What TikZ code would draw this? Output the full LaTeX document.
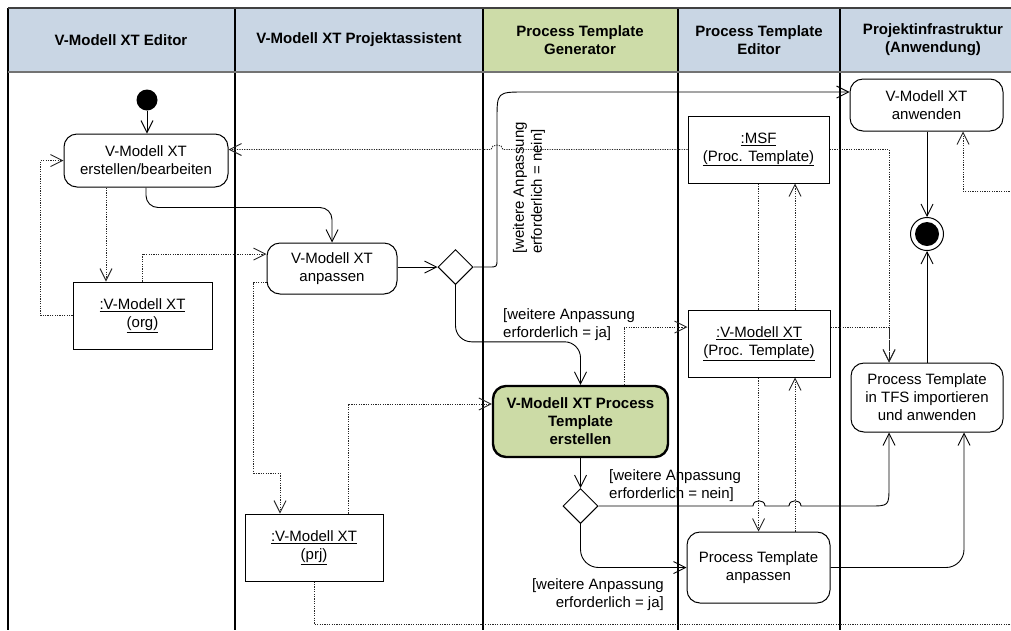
\documentclass[tikz,border=0pt]{standalone}
\usepackage{fontspec}
\setmainfont{Liberation Sans}
\usetikzlibrary{arrows.meta,shapes.geometric}
\pgfdeclarelayer{lanes}
\pgfdeclarelayer{edges}
\pgfsetlayers{lanes,edges,main}
\definecolor{hdrblue}{HTML}{C9D6E4}
\definecolor{hdrgreen}{HTML}{CDDCA8}
\definecolor{actgreen}{HTML}{CCDBA6}
\begin{document}
\begin{tikzpicture}[x=1pt,y=-1pt,font=\fontsize{15}{18}\selectfont,
  act/.style={draw, rounded corners=13pt, fill=white, align=center, inner sep=0pt, line width=1pt},
  obj/.style={draw, fill=white, align=center, inner sep=0pt, line width=1pt},
  flow/.style={line width=0.9pt, -{Straight Barb[length=12pt,width=12pt]}},
  oflow/.style={flow, draw=black!85, dash pattern=on 1.2pt off 1.2pt},
  dec/.style={draw, diamond, fill=white, inner sep=0pt, minimum width=35pt, minimum height=35pt, line width=1pt},
  lbl/.style={inner sep=0pt},
  hdr/.style={inner sep=0pt, align=center, font=\fontsize{15}{18}\selectfont\bfseries}]
\useasboundingbox (0,0) rectangle (1011,630);

% ---------- lanes ----------
\begin{pgfonlayer}{lanes}
\fill[hdrblue] (8,8) rectangle (1011,72);
\fill[hdrgreen] (483,8) rectangle (678,72);
\foreach \x in {8,235,483,678,840} \draw[line width=1.2pt] (\x,8) -- (\x,630);
\draw[line width=2pt, black!75] (8,8) -- (1011,8);
\draw[line width=2.5pt, black!55] (8,72) -- (1011,72);
\end{pgfonlayer}

\node[hdr] (h1) at (121,40) {V-Modell XT Editor};
\node[hdr] (h2) at (359,40) {V-Modell XT Projektassistent};
\node[hdr] (h3) at (580,40) {Process Template\\Generator};
\node[hdr] (h4) at (759,40) {Process Template\\Editor};
\node[hdr] (h5) at (933,40) {Projektinfrastruktur\\(Anwendung)};

% ---------- nodes ----------
\node[circle, fill=black, minimum size=21pt, inner sep=0pt] (init) at (147,100) {};
\node[act, minimum width=164pt, minimum height=53pt] (A) at (146,160.5) {V-Modell XT\\erstellen/bearbeiten};
\node[obj, minimum width=139pt, minimum height=67pt] (B) at (142.5,315.5) {\underline{:V-Modell XT}\\\underline{(org)}};
\node[act, minimum width=130pt, minimum height=51pt] (C) at (332,268.5) {V-Modell XT\\anpassen};
\node[dec] (D1) at (455.5,267) {};
\node[act, minimum width=153pt, minimum height=52pt] (E) at (926.5,105) {V-Modell XT\\anwenden};
\node[obj, minimum width=141pt, minimum height=67pt] (F) at (758.5,149.5) {\underline{:MSF}\\\underline{(Proc. Template)}};
\node[circle, draw, fill=white, minimum size=33pt, inner sep=0pt, line width=1pt] (fin) at (927,234) {};
\fill (fin.center) circle[radius=12pt];
\node[obj, minimum width=142pt, minimum height=67pt] (G) at (759,343.5) {\underline{:V-Modell XT}\\\underline{(Proc. Template)}};
\node[act, minimum width=152pt, minimum height=69pt] (H) at (927,397.5) {Process Template\\in TFS importieren\\und anwenden};
\node[act, fill=actgreen, line width=2.4pt, minimum width=175pt, minimum height=71pt, font=\fontsize{15}{18}\selectfont\bfseries] (I) at (580.5,421.5) {V-Modell XT Process\\Template\\erstellen};
\node[dec] (D2) at (580.5,506) {};
\node[obj, minimum width=138pt, minimum height=67pt] (J) at (314,547.5) {\underline{:V-Modell XT}\\\underline{(prj)}};
\node[act, minimum width=143pt, minimum height=71pt] (K) at (758.5,567.5) {Process Template\\anpassen};

% ---------- labels ----------
\node[lbl, rotate=90, anchor=west, align=left] (l1) at (529,254) {[weitere Anpassung\\erforderlich = nein]};
\node[lbl, anchor=west, align=left] (l2) at (503,325) {[weitere Anpassung\\erforderlich = ja]};
\node[lbl, anchor=west, align=left] (l3) at (609,486) {[weitere Anpassung\\erforderlich = nein]};
\node[lbl, anchor=east, align=right] (l4) at (664,595) {[weitere Anpassung\\erforderlich = ja]};

% ---------- connectors ----------
\begin{pgfonlayer}{edges}
\begin{scope}
\clip (0,0) rectangle (1011,630);
% control flow
\draw[flow] (init) -- (A.north -| init);
\draw[flow, rounded corners=12pt] (A.south) -- ++(0,20) -| (C.north);
\draw[flow] (D1.west -| C.east) -- (D1.west);
\draw[flow] (D1.east) -- (489,267) .. controls (497,267) .. (497,259) -- (497,120) .. controls (497,92) .. (525,92) -- ([yshift=13pt]E.west);
\draw[flow, rounded corners=16pt] (D1.south) |- ([yshift=43pt]I.north) -- (I.north);
\draw[flow] (I.south) -- (D2.north);
\draw[flow] (D2.east) -- (753,506) .. controls (753,499) and (765,499) .. (765,506) -- (789,506) .. controls (789,499) and (801,499) .. (801,506) -- (869,506) .. controls (889,506) .. (889,486) -- ([xshift=-38pt]H.south);
\draw[flow, rounded corners=18pt] (D2.south) |- (K.west);
\draw[flow, rounded corners=18pt] (K.east) -| ([xshift=37pt]H.south);
\draw[flow] (E.south -| fin) -- (fin.north);
\draw[flow] (H.north) -- (fin.south);
% object flow
\draw[oflow] ([xshift=-40pt]A.south) -- ([xshift=-40pt]A.south |- B.north);
\draw[oflow] (B.west) -- ++(-32,0) |- (A.west);
\draw[oflow] (B.north) |- ([yshift=14.5pt]C.west);
\draw[oflow] (F.west) -- (503,149.5) .. controls (503,143.5) and (491,143.5) .. (491,149.5) -- (A.east |- F.west);
\draw[oflow] (F.east) -| ([xshift=-38pt]H.north);
\draw[oflow] ([yshift=16.5pt]G.east) -| ([xshift=-38pt]H.north);
\draw[oflow] (F.south) -- (K.north);
\draw[oflow] ([xshift=36.5pt]K.north) -- ([xshift=36.5pt]K.north |- G.south);
\draw[oflow] ([xshift=36pt]G.north) -- ([xshift=36pt]G.north |- F.south);
\draw[oflow] ([xshift=43.5pt]I.north) |- ([yshift=16.5pt]G.west);
\draw[oflow] ([yshift=-13.5pt]C.west) -- ++(-13,0) |- (280,473) -- ([xshift=-34pt]J.north);
\draw[oflow] ([xshift=34pt]J.north) |- ([yshift=17.5pt]I.west);
\draw[oflow] (J.south) |- (1030,624) -- (1030,191) -| ([xshift=36.5pt]E.south);
\end{scope}
\end{pgfonlayer}
\end{tikzpicture}
\end{document}
